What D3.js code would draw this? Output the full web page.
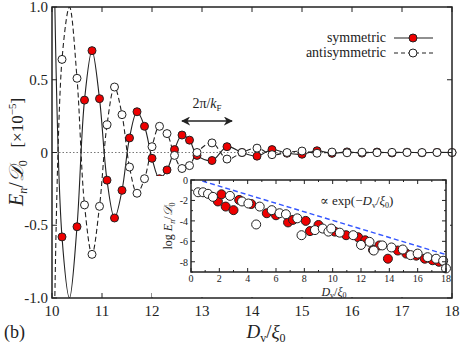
<!DOCTYPE html>
<html>
<head>
<meta charset="utf-8">
<script src="https://cdn.jsdelivr.net/npm/d3@7"></script>
<style>
  body { margin: 0; background: #fff; }
  svg { display: block; font-family: "Liberation Serif", "DejaVu Serif", serif; }
</style>
</head>
<body>
<svg id="chart" width="463" height="348"></svg>
<script>
// main panel: sample positions and the two series (units of 1e-5)
const xs = [10.05, 10.2, 10.35, 10.5, 10.65, 10.8, 10.95, 11.1, 11.25, 11.4, 11.55, 11.7, 11.85,
  12.0, 12.15, 12.3, 12.45, 12.6, 12.75, 12.9, 13.2, 13.5, 13.8, 14.1, 14.4, 14.7, 15.0, 15.3,
  15.6, 15.9, 16.2, 16.5, 16.8, 17.1, 17.4, 17.7, 18.0]
const symmetric = [1.15, -0.58, -1.0, -0.51, 0.36, 0.70, 0.37, -0.19, -0.45, -0.26, 0.10, 0.28, 0.18,
  -0.04, -0.18, -0.12, 0.02, 0.12, 0.085, -0.02, -0.055, 0.04, 0.0, -0.025, 0.02, -0.005, -0.012, 0.012,
  -0.006, 0.004, -0.004, 0.003, -0.003, 0.002, -0.002, 0.001, 0.0]
const antisymmetric = [-1.15, 0.64, 1.0, 0.51, -0.36, -0.70, -0.37, 0.19, 0.45, 0.26, -0.10, -0.28, -0.18,
  0.04, 0.18, 0.13, -0.02, -0.11, -0.09, 0.0, 0.066, -0.045, 0.0, 0.03, -0.015, 0.0, 0.01, -0.005,
  0.003, -0.002, 0.002, -0.001, 0.001, 0.0, 0.0, 0.0, 0.0]
const xTicks = [10, 11, 12, 13, 14, 15, 16, 17, 18]
const yTicks = [-1.0, -0.5, 0, 0.5, 1.0]
const period = [12.6, 13.6]   // 2pi/kF arrow

// inset: log of the splitting
const insetSym = [[1.9, -2.1], [2.15, -1.4], [2.45, -2.6], [3.0, -2.95], [3.4, -1.95], [4.25, -2.35],
  [5.35, -3.25], [6.0, -3.45], [6.85, -4.15], [7.2, -3.9], [8.1, -4.0], [8.4, -5.0], [9.0, -4.4],
  [10.15, -5.05], [10.95, -5.4], [11.8, -5.6], [12.3, -5.9], [12.85, -6.85], [13.3, -6.4], [13.9, -7.7],
  [14.6, -6.9], [15.2, -7.2], [15.9, -7.4], [16.5, -7.7], [17.05, -7.85], [17.5, -8.0]]
const insetAnti = [[0.5, -1.2], [0.85, -1.2], [1.2, -1.35], [1.55, -1.65], [2.75, -1.55], [3.6, -2.1],
  [4.05, -2.3], [4.6, -4.35], [4.85, -2.6], [5.7, -2.95], [6.25, -3.25], [6.7, -3.35], [7.5, -3.75],
  [7.8, -5.4], [8.75, -4.9], [9.3, -4.75], [9.7, -5.05], [9.9, -4.75], [10.5, -5.15], [11.45, -5.4],
  [12.0, -6.35], [12.6, -6.05], [12.9, -6.9], [13.5, -6.4], [14.15, -6.6], [14.95, -6.8], [15.5, -7.35],
  [16.0, -7.2], [16.7, -7.55], [17.3, -7.7], [17.8, -7.9], [18.0, -8.65]]
const insetFit = [[0.8, -0.1], [18, -7.3]]
const insetXTicks = [0, 2, 4, 6, 8, 10, 12, 14, 16, 18]
const insetYTicks = [0, -2, -4, -6, -8]

const svg = d3.select("#chart")
const ink = "#222"
const marginLeft = 52, marginRight = 10, marginTop = 7, marginBottom = 50
const W = 463, H = 348

const x = d3.scaleLinear().domain([10, 18]).range([marginLeft, W - marginRight - 1])
const y = d3.scaleLinear().domain([-1, 1]).range([H - marginBottom, marginTop])

svg.append("defs").append("clipPath").attr("id", "clip")
  .append("rect").attr("x", x(10)).attr("y", y(1)).attr("width", x(18) - x(10)).attr("height", y(-1) - y(1))

// zero line
svg.append("line")
  .attr("x1", x(10)).attr("x2", x(18)).attr("y1", y(0)).attr("y2", y(0))
  .attr("stroke", "#777").attr("stroke-width", 1).attr("stroke-dasharray", "1.5,2")

const line = d3.line().x(d => x(d[0])).y(d => y(d[1])).curve(d3.curveCatmullRom.alpha(0.5))
const symPts = xs.map((v, i) => [v, symmetric[i]])
const antiPts = xs.map((v, i) => [v, antisymmetric[i]])

const lines = svg.append("g").attr("clip-path", "url(#clip)")
lines.append("path").attr("d", line(antiPts)).attr("fill", "none")
  .attr("stroke", ink).attr("stroke-width", 1.1).attr("stroke-dasharray", "5,3")
lines.append("path").attr("d", line(symPts)).attr("fill", "none")
  .attr("stroke", ink).attr("stroke-width", 1.1)

const visible = d => Math.abs(d[1]) < 0.98
svg.append("g").selectAll("circle").data(symPts.filter(visible)).join("circle")
  .attr("cx", d => x(d[0])).attr("cy", d => y(d[1])).attr("r", 4)
  .attr("fill", "#ee0000").attr("stroke", ink).attr("stroke-width", 1)
svg.append("g").selectAll("circle").data(antiPts.filter(visible)).join("circle")
  .attr("cx", d => x(d[0])).attr("cy", d => y(d[1])).attr("r", 4)
  .attr("fill", "#fff").attr("stroke", ink).attr("stroke-width", 1)

// frame + inward ticks
svg.append("rect").attr("x", x(10)).attr("y", y(1)).attr("width", x(18) - x(10)).attr("height", y(-1) - y(1))
  .attr("fill", "none").attr("stroke", ink).attr("stroke-width", 1.5)
const ticks = svg.append("g").attr("stroke", ink).attr("stroke-width", 1)
xTicks.forEach(t => {
  ticks.append("line").attr("x1", x(t)).attr("x2", x(t)).attr("y1", y(-1)).attr("y2", y(-1) - 5)
  ticks.append("line").attr("x1", x(t)).attr("x2", x(t)).attr("y1", y(1)).attr("y2", y(1) + 5)
})
yTicks.forEach(t => {
  ticks.append("line").attr("x1", x(10)).attr("x2", x(10) + 5).attr("y1", y(t)).attr("y2", y(t))
  ticks.append("line").attr("x1", x(18)).attr("x2", x(18) - 5).attr("y1", y(t)).attr("y2", y(t))
})
svg.append("g").selectAll("text").data(xTicks).join("text")
  .attr("x", d => x(d)).attr("y", y(-1) + 18).attr("text-anchor", "middle")
  .attr("font-size", 15).attr("fill", ink).text(d => d)
svg.append("g").selectAll("text").data(yTicks).join("text")
  .attr("x", x(10) - 4).attr("y", d => y(d) + 5).attr("text-anchor", "end")
  .attr("font-size", 15).attr("fill", ink).text(d => d === 0 ? "0" : d3.format(".1f")(d).replace("−", "-"))

// axis titles
const xl = svg.append("text").attr("x", 266).attr("y", 338).attr("text-anchor", "middle")
  .attr("font-size", 19).attr("fill", ink)
xl.append("tspan").attr("font-style", "italic").text("D")
xl.append("tspan").attr("font-size", 12).attr("dy", 4).text("v")
xl.append("tspan").attr("dy", -4).text("/")
xl.append("tspan").attr("font-style", "italic").text("ξ")
xl.append("tspan").attr("font-size", 12).attr("dy", 4).text("0")

const yl = svg.append("text").attr("transform", "translate(23,152) rotate(-90)").attr("text-anchor", "middle")
  .attr("font-size", 20).attr("fill", ink)
yl.append("tspan").attr("font-style", "italic").text("E")
yl.append("tspan").attr("font-size", 12).attr("font-style", "italic").attr("dy", 4).text("n")
yl.append("tspan").attr("dy", -4).text("/")
yl.append("tspan").attr("font-style", "italic").text("𝒟")
yl.append("tspan").attr("font-size", 12).attr("dy", 4).text("0")
yl.append("tspan").attr("dy", -4).attr("font-size", 17).text("\u00a0\u00a0\u00a0[×10")
yl.append("tspan").attr("font-size", 11).attr("dy", -7).text("−5")
yl.append("tspan").attr("font-size", 17).attr("dy", 7).text("]")

svg.append("text").attr("x", 4).attr("y", 338).attr("font-size", 18).attr("fill", ink).text("(b)")

// legend
const legend = [["symmetric", "#ee0000", null, 42], ["antisymmetric", "#fff", "4,3", 57]]
legend.forEach(([name, fill, dash, ly]) => {
  svg.append("text").attr("x", 386).attr("y", ly).attr("text-anchor", "end")
    .attr("font-size", 14).attr("fill", ink).text(name)
  svg.append("line").attr("x1", 394).attr("x2", 433).attr("y1", ly - 4).attr("y2", ly - 4)
    .attr("stroke", ink).attr("stroke-width", 1.1).attr("stroke-dasharray", dash)
  svg.append("circle").attr("cx", 413).attr("cy", ly - 4).attr("r", 4)
    .attr("fill", fill).attr("stroke", ink).attr("stroke-width", 1)
})

// 2pi/kF arrow
const defs = svg.select("defs")
defs.append("marker").attr("id", "head").attr("viewBox", "0 0 10 10").attr("refX", 9).attr("refY", 5)
  .attr("markerWidth", 9).attr("markerHeight", 9).attr("markerUnits", "userSpaceOnUse")
  .attr("orient", "auto-start-reverse")
  .append("path").attr("d", "M0,0 L10,5 L0,10 L3,5 Z").attr("fill", ink)
svg.append("line").attr("x1", x(period[0])).attr("x2", x(period[1])).attr("y1", 121).attr("y2", 121)
  .attr("stroke", ink).attr("stroke-width", 1.3)
  .attr("marker-start", "url(#head)").attr("marker-end", "url(#head)")
const pl = svg.append("text").attr("x", (x(period[0]) + x(period[1])) / 2).attr("y", 108)
  .attr("text-anchor", "middle").attr("font-size", 14).attr("fill", ink)
pl.append("tspan").text("2π/")
pl.append("tspan").attr("font-style", "italic").text("k")
pl.append("tspan").attr("font-size", 9).attr("dy", 3).text("F")

// ---- inset ----
svg.append("rect").attr("x", 152).attr("y", 176).attr("width", 298).attr("height", 121).attr("fill", "#fff")
const ix = d3.scaleLinear().domain([0, 18]).range([191, 446])
const iy = d3.scaleLinear().domain([-9, 0]).range([272, 180])

svg.append("line").attr("x1", ix(insetFit[0][0])).attr("y1", iy(insetFit[0][1]))
  .attr("x2", ix(insetFit[1][0])).attr("y2", iy(insetFit[1][1]))
  .attr("stroke", "#3355ff").attr("stroke-width", 1.4).attr("stroke-dasharray", "5,3")

svg.append("g").selectAll("circle").data(insetSym).join("circle")
  .attr("cx", d => ix(d[0])).attr("cy", d => iy(d[1])).attr("r", 4.5)
  .attr("fill", "#ee0000").attr("stroke", ink).attr("stroke-width", 1)
svg.append("g").selectAll("circle").data(insetAnti).join("circle")
  .attr("cx", d => ix(d[0])).attr("cy", d => iy(d[1])).attr("r", 4.5)
  .attr("fill", "#fff").attr("stroke", ink).attr("stroke-width", 1)

svg.append("rect").attr("x", ix(0)).attr("y", iy(0)).attr("width", ix(18) - ix(0)).attr("height", iy(-9) - iy(0))
  .attr("fill", "none").attr("stroke", ink).attr("stroke-width", 1.5)
const iticks = svg.append("g").attr("stroke", ink).attr("stroke-width", 1)
d3.range(0, 19).forEach(t => {
  const len = t % 2 === 0 ? 4 : 2
  iticks.append("line").attr("x1", ix(t)).attr("x2", ix(t)).attr("y1", iy(-9)).attr("y2", iy(-9) - len)
  iticks.append("line").attr("x1", ix(t)).attr("x2", ix(t)).attr("y1", iy(0)).attr("y2", iy(0) + len)
})
d3.range(-9, 1).forEach(t => {
  const len = t % 2 === 0 ? 4 : 2
  iticks.append("line").attr("x1", ix(0)).attr("x2", ix(0) + len).attr("y1", iy(t)).attr("y2", iy(t))
  iticks.append("line").attr("x1", ix(18)).attr("x2", ix(18) - len).attr("y1", iy(t)).attr("y2", iy(t))
})
svg.append("g").selectAll("text").data(insetXTicks).join("text")
  .attr("x", d => ix(d)).attr("y", iy(-9) + 10).attr("text-anchor", "middle")
  .attr("font-size", 10).attr("fill", ink).text(d => d)
svg.append("g").selectAll("text").data(insetYTicks).join("text")
  .attr("x", ix(0) - 3).attr("y", d => iy(d) + 4).attr("text-anchor", "end")
  .attr("font-size", 10).attr("fill", ink).text(d => d === 0 ? "0" : "-" + Math.abs(d))

const ixl = svg.append("text").attr("x", 334).attr("y", 296).attr("text-anchor", "middle")
  .attr("font-size", 12).attr("fill", ink)
ixl.append("tspan").attr("font-style", "italic").text("D")
ixl.append("tspan").attr("font-size", 8).attr("dy", 2).text("v")
ixl.append("tspan").attr("dy", -2).text("/")
ixl.append("tspan").attr("font-style", "italic").text("ξ")
ixl.append("tspan").attr("font-size", 8).attr("dy", 2).text("0")

const iyl = svg.append("text").attr("transform", "translate(172,226) rotate(-90)").attr("text-anchor", "middle")
  .attr("font-size", 12).attr("fill", ink)
iyl.append("tspan").text("log ")
iyl.append("tspan").attr("font-style", "italic").text("E")
iyl.append("tspan").attr("font-size", 8).attr("font-style", "italic").attr("dy", 3).text("n")
iyl.append("tspan").attr("dy", -3).text("/")
iyl.append("tspan").attr("font-style", "italic").text("𝒟")
iyl.append("tspan").attr("font-size", 8).attr("dy", 3).text("0")

const fl = svg.append("text").attr("x", 320).attr("y", 205).attr("font-size", 13).attr("fill", ink)
fl.append("tspan").text("∝ exp(−")
fl.append("tspan").attr("font-style", "italic").text("D")
fl.append("tspan").attr("font-size", 8).attr("dy", 3).text("v")
fl.append("tspan").attr("dy", -3).text("/")
fl.append("tspan").attr("font-style", "italic").text("ξ")
fl.append("tspan").attr("font-size", 8).attr("dy", 3).text("0")
fl.append("tspan").attr("dy", -3).text(")")
</script>
</body>
</html>
